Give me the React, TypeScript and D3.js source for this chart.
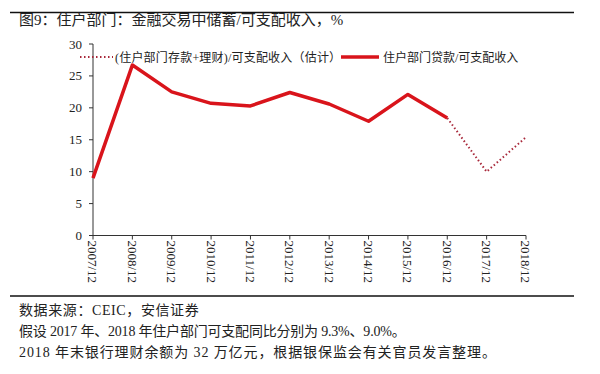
import React from "react";
import * as d3 from "d3";

const categories = ["2007/12","2008/12","2009/12","2010/12","2011/12","2012/12","2013/12","2014/12","2015/12","2016/12","2017/12","2018/12"];
const loanSeries: (number | null)[] = [9.0, 26.7, 22.5, 20.7, 20.3, 22.4, 20.6, 17.9, 22.1, 18.4, null, null];
const estSeries: (number | null)[] = [null, null, null, null, null, null, null, null, null, 18.4, 10.0, 15.4];
const yTicks = [0, 5, 10, 15, 20, 25, 30];
const legendLabels = ["(住户部门存款+理财)/可支配收入（估计）", "住户部门贷款/可支配收入"];
const title = "图9：住户部门：金融交易中储蓄/可支配收入，%";
const notes = ["数据来源：CEIC，安信证券", "假设 2017 年、2018 年住户部门可支配同比分别为 9.3%、9.0%。", "2018 年末银行理财余额为 32 万亿元，根据银保监会有关官员发言整理。"];
const noteSpacing = [0.6, -0.2, 0.9];

const FONT = "'Liberation Serif', 'Noto Sans CJK SC', serif";
const RED = "#d9141b";
const DOT = "#a8283a";

export default function App() {
  const x = d3.scalePoint<string>().domain(categories).range([93, 526]);
  const y = d3.scaleLinear().domain([0, 30]).range([235.5, 44]);
  const line = d3
    .line<number | null>()
    .defined((d) => d != null)
    .x((_, i) => x(categories[i]) as number)
    .y((d) => y(d as number));

  return (
    <svg width={600} height={374} style={{ position: "absolute", left: 0, top: 0, background: "#fff" }} fontFamily={FONT}>
      <rect x={0} y={0} width={600} height={374} fill="#fff" />
      <line x1={10} x2={574} y1={12.5} y2={12.5} stroke="#111" strokeWidth={1.5} />
      <text x={19} y={25} fontSize={15} fill="#222">{title}</text>

      {/* y axis */}
      <line x1={93} x2={93} y1={y(30)} y2={y(0)} stroke="#333" strokeWidth={1} />
      {yTicks.map((t) => (
        <g key={t}>
          <line x1={89} x2={93} y1={y(t)} y2={y(t)} stroke="#333" />
          <text x={82} y={y(t)} dy="0.35em" textAnchor="end" fontSize={13} fill="#222">{t}</text>
        </g>
      ))}
      {/* x axis */}
      <line x1={93} x2={526} y1={y(0)} y2={y(0)} stroke="#333" strokeWidth={1} />
      {categories.map((c) => (
        <g key={c}>
          <line x1={x(c)} x2={x(c)} y1={y(0)} y2={y(0) + 4} stroke="#333" />
          <text
            transform={`translate(${x(c)},${y(0) + 5}) rotate(90)`}
            dy="0.35em"
            fontSize={13}
            fill="#222"
          >{c}</text>
        </g>
      ))}

      {/* series */}
      <path d={line(estSeries) || ""} fill="none" stroke={DOT} strokeWidth={2} strokeDasharray="1.5 2.5" />
      <path d={line(loanSeries) || ""} fill="none" stroke={RED} strokeWidth={3.5} strokeLinejoin="round" />

      {/* legend */}
      <line x1={80} x2={113} y1={57} y2={57} stroke={DOT} strokeWidth={2} strokeDasharray="1.5 2.5" />
      <text x={115} y={61.5} fontSize={12} fill="#222" letterSpacing={0.2}>{legendLabels[0]}</text>
      <line x1={341} x2={379} y1={57} y2={57} stroke={RED} strokeWidth={3.5} />
      <text x={383} y={61.5} fontSize={12} fill="#222">{legendLabels[1]}</text>

      <line x1={10} x2={574} y1={296} y2={296} stroke="#111" strokeWidth={1.5} />
      {notes.map((n, i) => (
        <text key={i} x={19} y={315 + i * 21} fontSize={14} fill="#222" letterSpacing={noteSpacing[i]}>{n}</text>
      ))}
    </svg>
  );
}
